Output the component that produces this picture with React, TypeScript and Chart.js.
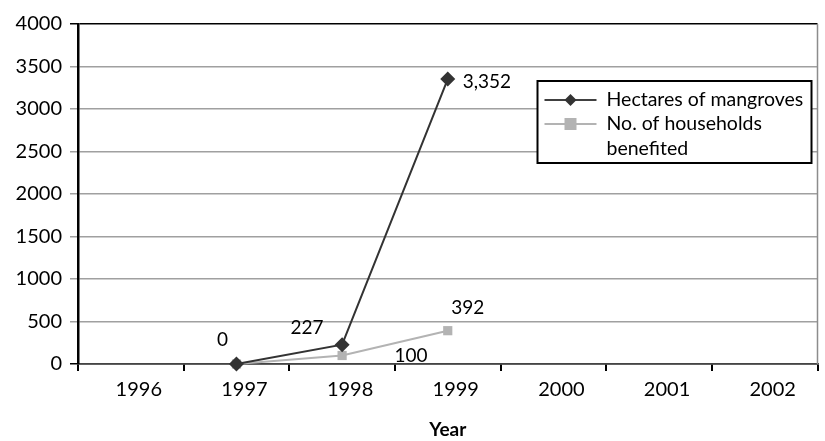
import { useEffect, useRef } from "react";
import { Chart, registerables } from "chart.js";

Chart.register(...registerables);

const years = ["1996", "1997", "1998", "1999", "2000", "2001", "2002"];
const hectares = [null, 0, 227, 3352, null, null, null];
const households = [null, 0, 100, 392, null, null, null];
const hectaresLabels = [null, "0", "227", "3,352", null, null, null];
const householdsLabels = [null, null, "100", "392", null, null, null];
const seriesNames = ["Hectares of mangroves", "No. of households benefited"];
const yTicks = [0, 500, 1000, 1500, 2000, 2500, 3000, 3500, 4000];

const FONT = "Lato, 'Open Sans', sans-serif";
const DARK = "#333333";
const LIGHT = "#b3b3b3";

const hectOffsets = [null, [-14, -24, "center"], [-35, -17, "center"], [15, 3, "left"], null, null, null];
const hhOffsets = [null, null, [69, 0, "center"], [20, -23, "center"], null, null, null];

const labelPlugin = {
  id: "pointLabels",
  afterDatasetsDraw(chart: any) {
    const ctx = chart.ctx;
    ctx.save();
    ctx.font = `19px ${FONT}`;
    ctx.fillStyle = "#000";
    ctx.textBaseline = "middle";
    const sets = [
      { idx: 0, labels: hectaresLabels, offs: hectOffsets },
      { idx: 1, labels: householdsLabels, offs: hhOffsets },
    ];
    sets.forEach(({ idx, labels, offs }) => {
      const meta = chart.getDatasetMeta(idx);
      meta.data.forEach((pt: any, i: number) => {
        const lab = labels[i];
        const off = offs[i] as any;
        if (!lab || !off) return;
        ctx.textAlign = off[2];
        ctx.fillText(lab, pt.x + off[0], pt.y + off[1]);
      });
    });
    ctx.restore();
  },
};

const frameAndLegendPlugin = {
  id: "boxLegend",
  beforeDatasetsDraw(chart: any) {
    const ctx = chart.ctx;
    const a = chart.chartArea;
    ctx.save();
    ctx.strokeStyle = "#8c8c8c";
    ctx.lineWidth = 1.5;
    ctx.beginPath();
    ctx.moveTo(a.right, a.top);
    ctx.lineTo(a.right, a.bottom);
    ctx.stroke();
    ctx.restore();
  },
  afterDraw(chart: any) {
    const ctx = chart.ctx;
    const a = chart.chartArea;
    const x0 = a.right - 280;
    const y0 = a.top + 57;
    const w = 274;
    const h = 82;
    ctx.save();
    ctx.fillStyle = "#fff";
    ctx.fillRect(x0, y0, w, h);
    ctx.strokeStyle = "#000";
    ctx.lineWidth = 2;
    ctx.strokeRect(x0, y0, w, h);
    const ly1 = y0 + 19;
    ctx.strokeStyle = "#000";
    ctx.lineWidth = 1.5;
    ctx.beginPath();
    ctx.moveTo(x0 + 7, ly1);
    ctx.lineTo(x0 + 59, ly1);
    ctx.stroke();
    ctx.fillStyle = DARK;
    ctx.beginPath();
    const cx1 = x0 + 33;
    ctx.moveTo(cx1, ly1 - 6);
    ctx.lineTo(cx1 + 6, ly1);
    ctx.lineTo(cx1, ly1 + 6);
    ctx.lineTo(cx1 - 6, ly1);
    ctx.closePath();
    ctx.fill();
    const ly2 = y0 + 43;
    ctx.strokeStyle = LIGHT;
    ctx.lineWidth = 2;
    ctx.beginPath();
    ctx.moveTo(x0 + 7, ly2);
    ctx.lineTo(x0 + 59, ly2);
    ctx.stroke();
    ctx.fillStyle = LIGHT;
    ctx.fillRect(cx1 - 6, ly2 - 6, 12, 12);
    ctx.fillStyle = "#000";
    ctx.font = `19.5px ${FONT}`;
    ctx.textAlign = "left";
    ctx.textBaseline = "middle";
    const tx = x0 + 69;
    ctx.fillText(seriesNames[0], tx, ly1);
    const parts = seriesNames[1].split(" ");
    ctx.fillText(parts.slice(0, 3).join(" "), tx, ly2);
    ctx.fillText(parts.slice(3).join(" "), tx, ly2 + 25);
    ctx.restore();
  },
};

export default function App() {
  const ref = useRef<HTMLCanvasElement>(null);
  useEffect(() => {
    document.body.style.margin = "0";
    const chart = new Chart(ref.current!, {
      type: "line",
      data: {
        labels: years,
        datasets: [
          {
            label: seriesNames[0],
            data: hectares,
            borderColor: DARK,
            backgroundColor: DARK,
            borderWidth: 2,
            pointStyle: "rectRot",
            pointRadius: 7.5,
            pointBackgroundColor: DARK,
            pointBorderWidth: 0,
            clip: false,
          },
          {
            label: seriesNames[1],
            data: households,
            borderColor: LIGHT,
            backgroundColor: LIGHT,
            borderWidth: 2,
            pointStyle: "rect",
            pointRadius: 6.5,
            pointBackgroundColor: LIGHT,
            pointBorderWidth: 0,
            clip: false,
          },
        ],
      },
      plugins: [labelPlugin, frameAndLegendPlugin],
      options: {
        animation: false,
        responsive: false,
        devicePixelRatio: 1,
        layout: { padding: { left: 0, right: 3, top: 24, bottom: 0 } },
        plugins: {
          legend: { display: false },
          tooltip: { enabled: false },
          title: { display: false },
        },
        scales: {
          x: {
            offset: true,
            grid: {
              offset: true,
              drawOnChartArea: false,
              drawTicks: true,
              tickLength: 7,
              color: "#000",
              lineWidth: 2,
            },
            border: { display: true, color: "#444", width: 1.5 },
            ticks: {
              color: "#000",
              font: { family: FONT, size: 20 },
              padding: 7,
              maxRotation: 0,
              labelOffset: 8,
            },
            title: {
              display: true,
              text: "Year",
              color: "#000",
              font: { family: FONT, size: 19, weight: "bold" },
              padding: { top: 0, bottom: 0 },
            },
            afterFit(scale: any) {
              scale.height = 77;
              scale.paddingLeft = 0;
              scale.paddingRight = 0;
            },
          },
          y: {
            min: 0,
            max: 4000,
            afterBuildTicks(scale: any) {
              scale.ticks = yTicks.map((v) => ({ value: v }));
            },
            grid: {
              color: (c: any) => (c.tick && (c.tick.value === 4000 || c.tick.value === 0) ? "#000" : "#a0a0a0"),
              lineWidth: 1.5,
              tickLength: 8,
            },
            border: { display: true, color: "#000", width: 2.5 },
            ticks: {
              color: "#000",
              font: { family: FONT, size: 20 },
              padding: 8,
              callback: (v: any) => String(v),
            },
            afterFit(scale: any) {
              scale.width = 78;
            },
          },
        },
      },
    });
    return () => chart.destroy();
  }, []);
  return (
    <div style={{ position: "relative", width: 825, height: 441 }}>
      <canvas ref={ref} width={825} height={441} style={{ display: "block" }} />
    </div>
  );
}
